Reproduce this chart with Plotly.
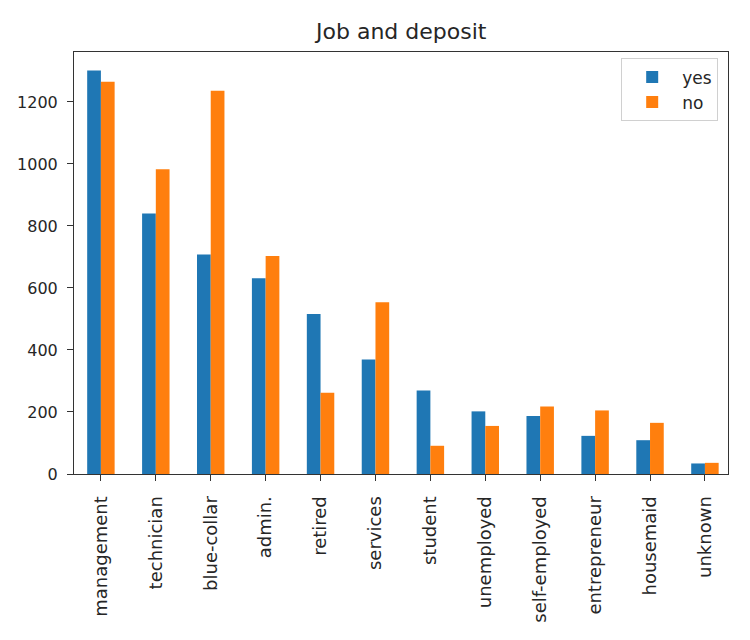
import plotly.graph_objects as go

jobs = ["management", "technician", "blue-collar", "admin.", "retired", "services",
        "student", "unemployed", "self-employed", "entrepreneur", "housemaid", "unknown"]
yes_vals = [1301, 840, 708, 631, 516, 369, 269, 202, 187, 123, 109, 34]
no_vals = [1265, 983, 1236, 703, 262, 554, 91, 155, 218, 205, 165, 36]

font = "DejaVu Sans"
fig = go.Figure()
fig.add_trace(go.Bar(x=jobs, y=yes_vals, name="yes", marker_color="#1f77b4", marker_line_width=0))
fig.add_trace(go.Bar(x=jobs, y=no_vals, name="no", marker_color="#ff7f0e", marker_line_width=0))

fig.update_layout(
    width=750, height=640,
    margin=dict(l=74, r=22, t=52, b=166),
    paper_bgcolor="white", plot_bgcolor="white",
    barmode="group", bargap=0.5, bargroupgap=0,
    title=dict(text="Job and deposit", x=0.535, xanchor="center", y=0.951, yanchor="middle",
               font=dict(family=font, size=22, color="#262626")),
    font=dict(family=font, size=15, color="#262626"),
    showlegend=True,
    legend=dict(x=0.985, y=0.985, xanchor="right", yanchor="top", itemwidth=50,
                bgcolor="rgba(255,255,255,0.9)", bordercolor="#d0d0d0", borderwidth=1,
                font=dict(family=font, size=17, color="#262626")),
    xaxis=dict(range=[-0.49, 11.42], tickangle=-90, showline=True, linecolor="#333",
               linewidth=1, mirror=True, ticks="outside", ticklen=6, tickcolor="#333",
               showgrid=False, tickfont=dict(size=18), ticklabelstandoff=8),
    yaxis=dict(range=[0, 1361], tickvals=[0, 200, 400, 600, 800, 1000, 1200],
               showline=True, linecolor="#333", linewidth=1, mirror=True,
               ticks="outside", ticklen=6, tickcolor="#333", showgrid=False,
               zeroline=False, tickfont=dict(size=16), ticklabelstandoff=6),
)
fig.write_html("out.html")
